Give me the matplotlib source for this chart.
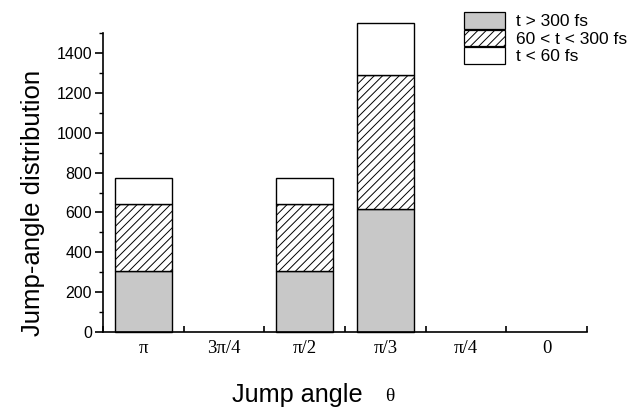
import matplotlib
matplotlib.use("Agg")
import matplotlib.pyplot as plt
from matplotlib.patches import Patch
import numpy as np

# jump-angle distribution, split by residence time
angles = ["π", "3π/4", "π/2", "π/3", "π/4", "0"]
slow = [307, 0, 307, 615, 0, 0]      # t > 300 fs
medium = [338, 0, 338, 675, 0, 0]    # 60 < t < 300 fs
fast = [130, 0, 130, 260, 0, 0]      # t < 60 fs
legend_labels = ["t > 300 fs", "60 < t < 300 fs", "t < 60 fs"]

sans = "Liberation Sans"
serif = "Liberation Serif"
plt.rcParams["font.family"] = sans
plt.rcParams["hatch.linewidth"] = 0.7

gray = "#c8c8c8"

fig = plt.figure(figsize=(6.4, 4.08), dpi=100)
ax = fig.add_axes([0.161, 0.186, 0.756, 0.733])

x = np.arange(len(angles))
w = 0.7
slow = np.array(slow)
medium = np.array(medium)
fast = np.array(fast)
keep = (slow + medium + fast) > 0

kw = dict(width=w, edgecolor="black", linewidth=1.0, clip_on=False, zorder=2)
ax.bar(x[keep], slow[keep], color=gray, **kw)
ax.bar(x[keep], medium[keep], bottom=slow[keep], color="white", hatch="////", **kw)
ax.bar(x[keep], fast[keep], bottom=(slow + medium)[keep], color="white", **kw)

ax.set_xlim(-0.5, len(angles) - 0.5)
ax.set_ylim(0, 1500)

for s in ["top", "right"]:
    ax.spines[s].set_visible(False)
for s in ["left", "bottom"]:
    ax.spines[s].set_linewidth(1.2)

# category boundaries get small inward ticks, labels sit between them
ax.set_xticks(np.arange(len(angles) + 1) - 0.5)
ax.set_xticklabels([])
ax.set_xticks(x, minor=True)
ax.set_xticklabels(angles, minor=True, fontfamily=serif, fontsize=13.5)
ax.tick_params(axis="x", which="major", direction="in", length=4, width=1.2)
ax.tick_params(axis="x", which="minor", length=0, pad=6)

ax.set_yticks(np.arange(0, 1401, 200))
ax.set_yticks(np.arange(100, 1501, 200), minor=True)
ax.tick_params(axis="y", which="major", direction="out", length=6, width=1.2,
               labelsize=11.5, pad=2)
ax.tick_params(axis="y", which="minor", direction="out", length=3, width=1.0)

fig.text(33 / 640, 1 - 203 / 408, "Jump-angle distribution", fontsize=18.5,
         rotation=90, ha="center", va="center")

fig.text(232 / 640, 1 - 402 / 408, "Jump angle", fontsize=18.2, ha="left",
         va="baseline")
fig.text(385 / 640, 1 - 401 / 408, "θ", fontsize=14, fontfamily=serif,
         ha="left", va="baseline")

handles = [
    Patch(facecolor=gray, edgecolor="black", linewidth=0.9),
    Patch(facecolor="white", edgecolor="black", linewidth=0.9, hatch="////"),
    Patch(facecolor="white", edgecolor="black", linewidth=0.9),
]
fig.legend(handles, legend_labels, loc="upper left",
           bbox_to_anchor=(464 / 640, 1 - 12 / 408), frameon=False,
           fontsize=12.5, handlelength=2.35, handleheight=1.1,
           labelspacing=0.02, handletextpad=0.65, borderpad=0,
           borderaxespad=0)

fig.savefig("out.png", dpi=100)
